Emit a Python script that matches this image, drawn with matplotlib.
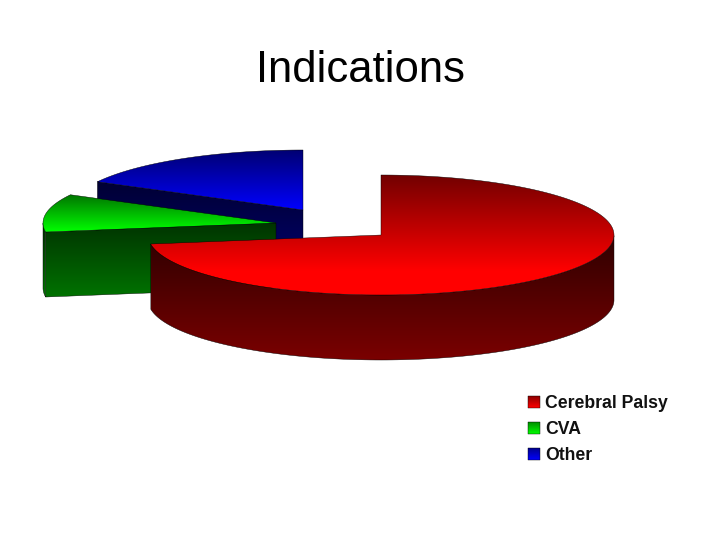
import matplotlib
matplotlib.use("Agg")
import matplotlib.pyplot as plt
from matplotlib.patches import Polygon
import numpy as np

labels = ["Cerebral Palsy", "CVA", "Other"]
values = [72.6, 10.2, 17.2]

colors = [(1, 0, 0), (0, 1, 0), (0, 0, 1)]
# apex of each exploded slice, in pixels
centers = [(381, 235), (276, 223), (303, 210)]
rx, ry = 233, 60
depth = 65

fig = plt.figure(figsize=(7.2, 5.4), dpi=100)
ax = fig.add_axes([0, 0, 1, 1])


def shade(xs, ys, top, bottom, z, stop=1.0):
    # vertical gradient clipped to a polygon
    rows = np.linspace(0, 1, 256)
    rows = np.clip(rows / stop, 0, 1)[:, None, None]
    img = np.array(top)[None, None, :] * (1 - rows) + np.array(bottom)[None, None, :] * rows
    pts = np.column_stack([xs, ys])
    im = ax.imshow(img, extent=[min(xs), max(xs), max(ys), min(ys)], aspect="auto",
                   interpolation="bilinear", zorder=z)
    edge = Polygon(pts, closed=True, fc="none", ec="black", lw=0.3, zorder=z + 0.1)
    ax.add_patch(edge)
    im.set_clip_path(edge)


def scaled(c, k):
    return tuple(v * k for v in c)


angles = np.cumsum([0] + values) / sum(values) * 2 * np.pi
# back slices first so the big one sits in front
for i in [2, 1, 0]:
    cx, cy = centers[i]
    c = colors[i]
    a0, a1 = angles[i], angles[i + 1]
    t = np.linspace(a0, a1, 200)
    x = cx + rx * np.sin(t)
    y = cy - ry * np.cos(t)
    z = 10 - 3 * i if i else 20

    # cut face at the start of the slice
    fx = [cx, x[0], x[0], cx]
    fy = [cy, y[0], y[0] + depth, cy + depth]
    if i:
        shade(fx, fy, scaled(c, 0.2), scaled(c, 0.45), z)

    # outer rim, only the part facing the viewer
    mask = (t >= np.pi / 2) & (t <= 3 * np.pi / 2)
    if mask.any():
        rim_x = np.concatenate([x[mask], x[mask][::-1]])
        rim_y = np.concatenate([y[mask], y[mask][::-1] + depth])
        shade(rim_x, rim_y, scaled(c, 0.18), scaled(c, 0.48), z + 0.2)

    # top face
    top_x = np.concatenate([[cx], x])
    top_y = np.concatenate([[cy], y])
    shade(top_x, top_y, scaled(c, 0.45), c, z + 0.4, stop=0.8 if i == 0 else 1.0)

ax.text(360.5, 70.5, "Indications", ha="center", va="center", fontsize=31.4,
        family="Liberation Sans", color="black")

# legend
box_y = [402, 428, 454]
for lab, c, yy in zip(labels, colors, box_y):
    shade([528, 540, 540, 528], [yy - 6, yy - 6, yy + 6, yy + 6], scaled(c, 0.55), c, 30)
    ax.text(545, yy + 1, lab, ha="left", va="center", fontsize=12.7,
            family="Liberation Sans", weight="bold", color="#111111")

ax.set_xlim(0, 720)
ax.set_ylim(540, 0)
ax.axis("off")
fig.savefig("out.png", dpi=100, facecolor="white")
